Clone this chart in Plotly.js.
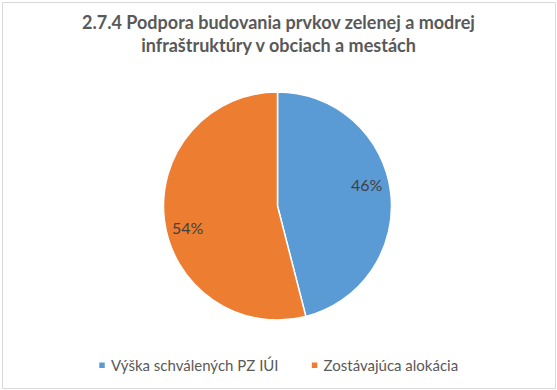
<!DOCTYPE html>
<html>
<head>
<meta charset="utf-8">
<script src="https://cdn.plot.ly/plotly-3.0.1.min.js"></script>
<style>
html,body{margin:0;padding:0;background:#fff;}
#chart{width:557px;height:390px;}
</style>
</head>
<body>
<div id="chart"></div>
<script>
const chartTitle = "2.7.4 Podpora budovania prvkov zelenej a modrej<br>infraštruktúry v obciach a mestách";
const categories = ["Výška schválených PZ IÚI", "Zostávajúca alokácia"];
const shares = [46, 54];
const colors = ["#5B9BD5", "#ED7D31"];

const W = 557, H = 390;
const pieX = [163/W, 392/W], pieY = [1 - 320/H, 1 - 92/H];
const trace = {
  type: "pie",
  labels: categories,
  values: shares,
  sort: false,
  direction: "clockwise",
  rotation: 0,
  marker: {colors: colors, line: {color: "#ffffff", width: 1.5}},
  textinfo: "none",
  hoverinfo: "none",
  domain: {x: pieX, y: pieY}
};

// percentage labels placed along each slice's mid-angle (like Excel's best fit)
const total = shares.reduce((a, b) => a + b, 0);
const cx = (pieX[0] + pieX[1]) / 2 * W, cy = (1 - (pieY[0] + pieY[1]) / 2) * H;
const R = Math.min((pieX[1] - pieX[0]) * W, (pieY[1] - pieY[0]) * H) / 2;
let acc = 0;
const labelAnns = shares.map(function(v){
  const mid = (acc + v / 2) / total * 2 * Math.PI;
  acc += v;
  const px = cx + 0.79 * R * Math.sin(mid);
  const py = cy - 0.79 * R * Math.cos(mid) - 10 * Math.sin(mid);
  return {
    xref: "paper", yref: "paper", x: px / W, y: 1 - py / H,
    text: Math.round(v / total * 100) + "%", showarrow: false,
    xanchor: "center", yanchor: "middle",
    font: {family: "Lato, 'Open Sans', sans-serif", size: 16, color: "#404040"}
  };
});

const layout = {
  width: W, height: H,
  margin: {l: 0, r: 0, t: 0, b: 0},
  paper_bgcolor: "#ffffff",
  showlegend: true,
  title: {
    text: chartTitle,
    font: {family: "Lato, 'Open Sans', sans-serif", size: 18, color: "#595959", weight: "bold"},
    x: 0.5, xanchor: "center", xref: "paper",
    y: 1 - 29/H, yanchor: "middle", yref: "container"
  },
  legend: {
    orientation: "h",
    x: 0.5 - 11/W, xanchor: "center",
    y: 1 - 349/H, yanchor: "top",
    font: {family: "Lato, 'Open Sans', sans-serif", size: 15, color: "#595959"},
    traceorder: "normal"
  },
  annotations: labelAnns,
  shapes: [
    {type: "rect", xref: "paper", yref: "paper", x0: 2.5/W, x1: 555.5/W, y0: 1 - 388.5/H, y1: 1 - 2.5/H,
     line: {color: "#D9D9D9", width: 1}, fillcolor: "rgba(0,0,0,0)"}
  ]
};

Plotly.newPlot("chart", [trace], layout, {displayModeBar: false, staticPlot: true}).then(function(){
  document.querySelectorAll("#chart .legendpoints path").forEach(function(p){
    p.setAttribute("d", "M14.5,3.5H7.5V-3.5H14.5Z");
  });
});
</script>
</body>
</html>
